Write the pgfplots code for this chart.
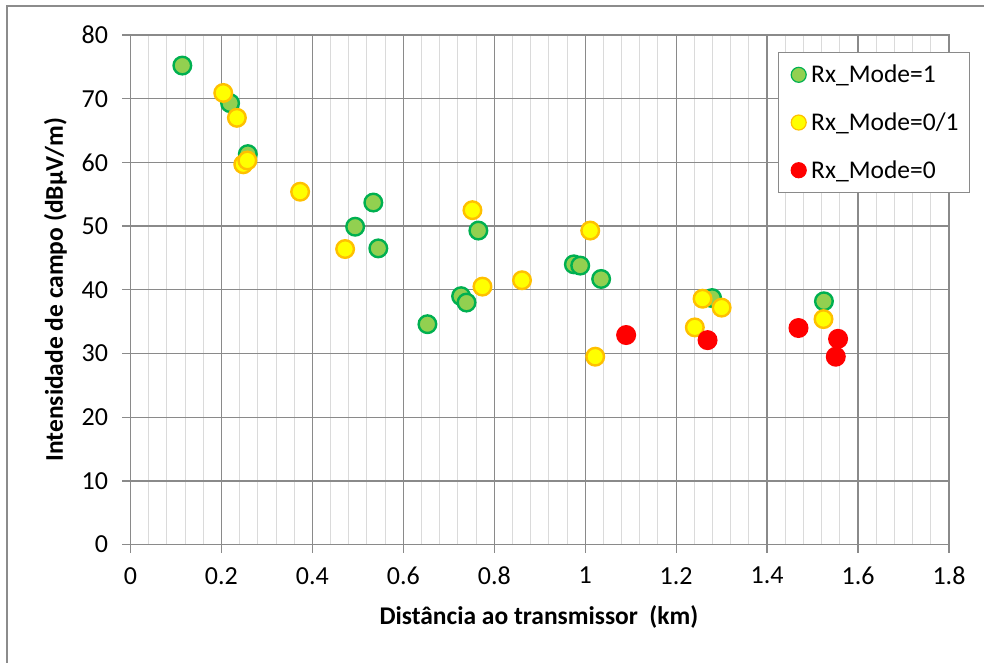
\documentclass[border=0pt]{standalone}
\usepackage{pgfplots}
\pgfplotsset{compat=1.18}
\usepackage{fontspec}
\setmainfont{Carlito}
\definecolor{gfill}{HTML}{92D050}
\definecolor{gedge}{HTML}{00B050}
\definecolor{yfill}{HTML}{FFFF00}
\definecolor{yedge}{HTML}{FFC000}
\definecolor{rfill}{HTML}{FF0000}
\definecolor{majgrid}{HTML}{8A8A8A}
\definecolor{mingrid}{HTML}{DADADA}
\definecolor{frame}{HTML}{8C8C8C}
\begin{document}
\begin{tikzpicture}[x=1pt,y=1pt]
\path[use as bounding box] (-130.5,-117.4) rectangle (853.5,544.6);
\begin{axis}[
  at={(0,0)}, anchor=south west,
  scale only axis, width=818.5pt, height=509.6pt,
  xmin=0, xmax=1.8, ymin=0, ymax=80,
  xtick={0,0.2,...,1.8}, ytick={0,10,...,80},
  minor x tick num=4,
  xmajorgrids, ymajorgrids, xminorgrids,
  major grid style={majgrid, line width=1.3pt},
  minor grid style={mingrid, line width=1pt},
  axis line style={majgrid, line width=1.3pt},
  tick style={majgrid, line width=1.3pt},
  major tick length=8pt, minor tick length=0pt,
  tick align=outside, tick pos=left,
  /pgf/number format/assume math mode=true,
  tick label style={font=\fontsize{26}{30}\selectfont},
  xticklabel style={yshift=-11pt},
  yticklabel style={xshift=-11pt},
  xlabel={Distância ao transmissor\ \ (km)},
  ylabel={Intensidade de campo (dBµV/m)},
  every axis x label/.style={at={(axis description cs:0.499,-0.1413)}, anchor=center, font=\fontsize{25.5}{30}\selectfont\bfseries},
  every axis y label/.style={at={(axis description cs:-0.0916,0.5)}, anchor=center, rotate=90, font=\fontsize{25.5}{30}\selectfont\bfseries},
  legend style={at={(1.0257,0.9672)}, anchor=north east,
    draw=majgrid, line width=1pt, fill=white,
    font=\fontsize{25.5}{30}\selectfont,
    row sep=24.5pt, inner xsep=9pt, inner ysep=11pt,
    /tikz/every odd column/.append style={column sep=3pt}},
  legend cell align=left,
  legend image code/.code={\path (0,0); \draw[#1, mark size=7.5pt, line width=1.2pt] plot coordinates {(10pt,0pt)};},
]
\addplot[only marks, mark=*, mark size=8.8pt, draw=gedge, fill=gfill, line width=2.4pt] coordinates {
(0.114,75.2) (0.219,69.3) (0.258,61.3) (0.534,53.7) (0.494,49.9) (0.545,46.5)
(0.765,49.3) (0.653,34.6) (0.727,39.0) (0.739,38.0) (0.975,44.0) (0.989,43.8)
(1.035,41.7) (1.279,38.7) (1.525,38.2)
};
\addlegendentry{Rx\_Mode=1}
\addplot[only marks, mark=*, mark size=8.8pt, draw=yedge, fill=yfill, line width=2.4pt] coordinates {
(0.204,70.9) (0.234,67.0) (0.248,59.7) (0.257,60.3) (0.373,55.4) (0.472,46.4)
(0.752,52.5) (0.774,40.5) (0.861,41.5) (1.011,49.3) (1.022,29.5) (1.258,38.6)
(1.300,37.2) (1.241,34.1) (1.524,35.4)
};
\addlegendentry{Rx\_Mode=0/1}
\addplot[only marks, mark=*, mark size=8.8pt, draw=rfill, fill=rfill, line width=2.4pt] coordinates {
(1.090,32.9) (1.269,32.1) (1.469,34.0) (1.556,32.3) (1.551,29.5)
};
\addlegendentry{Rx\_Mode=0}
\end{axis}
\draw[frame, line width=2.5pt] (-123.5,-130) -- (-123.5,538.6) -- (870,538.6);
\end{tikzpicture}
\end{document}
